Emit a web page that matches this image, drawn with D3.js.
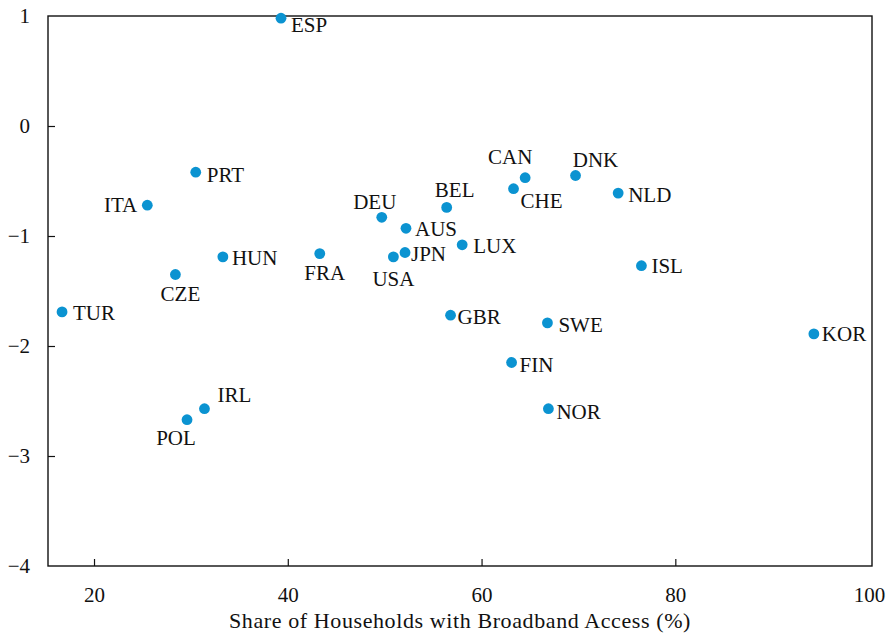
<!DOCTYPE html>
<html>
<head>
<meta charset="utf-8">
<script src="https://cdn.jsdelivr.net/npm/d3@7"></script>
<style>
  html, body { margin: 0; padding: 0; background: #fff; }
</style>
</head>
<body>
<div id="chart"></div>
<script>
// Country codes, broadband share (%) and the y value for each
const countries = ["ESP", "PRT", "ITA", "DEU", "BEL", "CAN", "CHE", "DNK", "NLD", "AUS",
                   "HUN", "FRA", "USA", "JPN", "LUX", "ISL", "CZE", "TUR", "GBR", "SWE",
                   "KOR", "FIN", "IRL", "NOR", "POL"];
const broadband = [39.3, 30.5, 25.5, 49.7, 56.4, 64.5, 63.3, 69.7, 74.1, 52.2,
                   33.3, 43.3, 50.9, 52.1, 58.0, 76.5, 28.4, 16.7, 56.8, 66.8,
                   94.3, 63.1, 31.4, 66.9, 29.6];
const yValues   = [0.98, -0.42, -0.72, -0.83, -0.74, -0.47, -0.57, -0.45, -0.61, -0.93,
                   -1.19, -1.16, -1.19, -1.15, -1.08, -1.27, -1.35, -1.69, -1.72, -1.79,
                   -1.89, -2.15, -2.57, -2.57, -2.67];

const xTicks = [20, 40, 60, 80, 100];
const yTicks = [1, 0, -1, -2, -3, -4];
const xTitle = "Share of Households with Broadband Access (%)";

// label placement around each dot: [dx, dy, anchor]
const labelPlace = {
  ESP: [10, 14, "start"], PRT: [11, 10, "start"], ITA: [-10, 7, "end"],
  DEU: [-7, -8, "middle"], BEL: [8, -10, "middle"], CAN: [-15, -14, "middle"],
  CHE: [7, 19, "start"], DNK: [20, -9, "middle"], NLD: [10, 9, "start"],
  AUS: [9, 8, "start"], HUN: [9, 8, "start"], FRA: [5, 26, "middle"],
  USA: [0, 29, "middle"], JPN: [6, 8, "start"], LUX: [11, 8, "start"],
  ISL: [10, 7, "start"], CZE: [5, 26, "middle"], TUR: [11, 8, "start"],
  GBR: [7, 9, "start"], SWE: [11, 9, "start"], KOR: [8, 7, "start"],
  FIN: [8, 9, "start"], IRL: [13, -7, "start"], NOR: [8, 10, "start"],
  POL: [-11, 25, "middle"]
};

const FONT = '"Liberation Serif", "DejaVu Serif", "Times New Roman", serif';

const width = 892, height = 640;
const margin = { top: 16, right: 20, bottom: 74, left: 48 };
const innerW = width - margin.left - margin.right;
const innerH = height - margin.top - margin.bottom;

const svg = d3.select("#chart").append("svg")
  .attr("width", width)
  .attr("height", height);

const g = svg.append("g")
  .attr("transform", `translate(${margin.left},${margin.top})`);

const x = d3.scaleLinear().domain([15.25, 100.3]).range([0, innerW]);
const y = d3.scaleLinear().domain([-4, 1]).range([innerH, 0]);

const fmt = d => d < 0 ? "\u2212" + Math.abs(d) : String(d);

// x axis (ticks point inward)
const xAxis = g.append("g")
  .attr("transform", `translate(0,${innerH})`)
  .call(d3.axisBottom(x).tickValues(xTicks).tickSize(-7).tickPadding(21).tickFormat(fmt));

// y axis
const yAxis = g.append("g")
  .call(d3.axisLeft(y).tickValues(yTicks).tickSize(-7).tickPadding(18).tickFormat(fmt));

[xAxis, yAxis].forEach(a => {
  a.attr("font-family", null).attr("font-size", null);
  a.select(".domain").remove();
  a.selectAll("text")
    .style("font-family", FONT)
    .style("font-size", "21px")
    .attr("fill", "#111");
  a.selectAll("line").attr("stroke", "#111").attr("stroke-width", 1.2);
});
// tick marks at the frame edges are hidden by the frame itself
xAxis.selectAll(".tick line").filter(d => d === 100).remove();
yAxis.selectAll(".tick line").filter(d => d === 1 || d === -4).remove();
yAxis.selectAll("text").attr("dy", "0.33em");

// frame
g.append("rect")
  .attr("x", 0).attr("y", 0)
  .attr("width", innerW).attr("height", innerH)
  .attr("fill", "none")
  .attr("stroke", "#111")
  .attr("stroke-width", 1.4);

// points
const data = countries.map((c, i) => ({ code: c, xv: broadband[i], yv: yValues[i] }));

g.selectAll(".dot")
  .data(data)
  .enter().append("circle")
  .attr("class", "dot")
  .attr("cx", d => x(d.xv))
  .attr("cy", d => y(d.yv))
  .attr("r", 5.4)
  .attr("fill", "#0b93d1");

g.selectAll(".lbl")
  .data(data)
  .enter().append("text")
  .attr("class", "lbl")
  .attr("x", d => x(d.xv) + labelPlace[d.code][0])
  .attr("y", d => y(d.yv) + labelPlace[d.code][1])
  .attr("text-anchor", d => labelPlace[d.code][2])
  .attr("fill", "#111")
  .style("font-family", FONT)
  .style("font-size", "21px")
  .text(d => d.code);

// axis title
svg.append("text")
  .attr("x", margin.left + innerW / 2)
  .attr("y", 628)
  .attr("text-anchor", "middle")
  .attr("fill", "#111")
  .style("font-family", FONT)
  .style("font-size", "22px")
  .style("letter-spacing", "0.6px")
  .text(xTitle);
</script>
</body>
</html>
